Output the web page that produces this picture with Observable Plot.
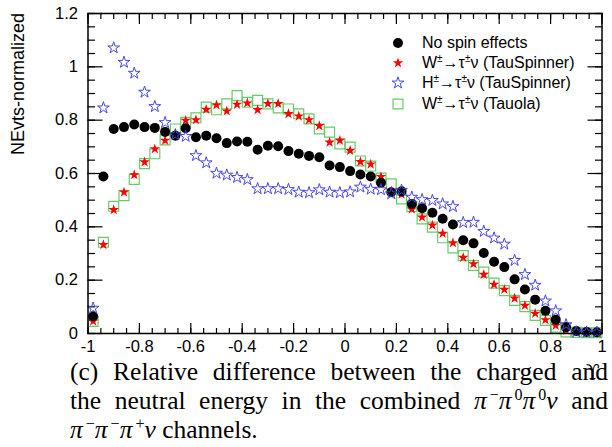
<!DOCTYPE html>
<html>
<head>
<meta charset="utf-8">
<script src="https://cdn.jsdelivr.net/npm/d3@7"></script>
<script src="https://cdn.jsdelivr.net/npm/@observablehq/plot@0.6"></script>
<style>
  body { margin: 0; background: #fff; }
  #wrap { position: relative; width: 612px; height: 447px; overflow: hidden; font-family: "Liberation Sans", Arial, sans-serif; }
  #chart svg { display: block; overflow: visible; }
  .legrow { position: absolute; height: 20px; white-space: nowrap; font-size: 16px; line-height: 20px; color: #000; }
  .legrow svg { position: absolute; top: 0; }
  .legrow span.t { position: absolute; top: 0; }
  .legrow sup { font-size: 10px; vertical-align: 6px; line-height: 0; }
  .caption { position: absolute; left: 70px; width: 538px; top: 357px; font-family: "Liberation Serif", "Times New Roman", serif; font-size: 25.5px; line-height: 29px; color: #000; }
  .caption .j { text-align: justify; text-align-last: justify; white-space: nowrap; }
  .caption i { font-style: italic; }
  .caption sup { font-size: 16px; vertical-align: 9px; line-height: 0; margin-left: 3px; }
  #upsilon { position: absolute; left: 586px; top: 360px; font-family: "DejaVu Serif", serif; font-size: 20px; line-height: 24px; color: #000; }
</style>
</head>
<body>
<div id="wrap">
  <div id="chart"></div>
  <div id="legend"></div>
  <div class="caption">
    <div class="j">(c) Relative difference between the charged and</div>
    <div class="j">the neutral energy in the combined <i>π</i><sup>−</sup><i>π</i><sup>0</sup><i>π</i><sup>0</sup><i>ν</i> and</div>
    <div><i>π</i><sup>−</sup><i>π</i><sup>−</sup><i>π</i><sup>+</sup><i>ν</i> channels.</div>
  </div>
  <div id="upsilon">ϒ</div>
</div>
<script>
// Bin centers (50 bins of width 0.04 on [-1, 1])
const binCenters = [-0.98,-0.94,-0.90,-0.86,-0.82,-0.78,-0.74,-0.70,-0.66,-0.62,
  -0.58,-0.54,-0.50,-0.46,-0.42,-0.38,-0.34,-0.30,-0.26,-0.22,
  -0.18,-0.14,-0.10,-0.06,-0.02,0.02,0.06,0.10,0.14,0.18,
  0.22,0.26,0.30,0.34,0.38,0.42,0.46,0.50,0.54,0.58,
  0.62,0.66,0.70,0.74,0.78,0.82,0.86,0.90,0.94,0.98];

// No spin effects (black circles)
const noSpin = [0.065,0.589,0.767,0.774,0.784,0.774,0.771,0.756,0.742,0.770,
  0.736,0.742,0.732,0.714,0.720,0.719,0.689,0.704,0.702,0.684,
  0.674,0.666,0.661,0.630,0.624,0.609,0.596,0.589,0.565,0.530,
  0.533,0.486,0.470,0.453,0.430,0.409,0.350,0.338,0.302,0.269,
  0.249,0.203,0.165,0.127,0.085,0.052,0.024,0.009,0.006,0.005];

// W -> tau nu (TauSpinner) (red filled stars)
const wTauSpinner = [0.046,0.333,0.464,0.530,0.595,0.643,0.692,0.724,0.749,0.799,
  0.801,0.840,0.857,0.834,0.859,0.864,0.839,0.862,0.862,0.824,
  0.815,0.801,0.779,0.717,0.724,0.686,0.644,0.635,0.588,0.535,
  0.522,0.466,0.436,0.406,0.375,0.340,0.285,0.261,0.221,0.184,
  0.165,0.132,0.105,0.075,0.051,0.030,0.012,0.006,0.004,0.004];

// H -> tau nu (TauSpinner) (blue open stars)
const hTauSpinner = [0.095,0.846,1.071,1.017,0.976,0.905,0.851,0.791,0.745,0.739,
  0.667,0.640,0.601,0.594,0.585,0.577,0.543,0.543,0.543,0.540,
  0.530,0.528,0.539,0.530,0.528,0.531,0.549,0.541,0.539,0.524,
  0.537,0.511,0.502,0.499,0.486,0.476,0.416,0.417,0.383,0.358,
  0.335,0.274,0.221,0.181,0.122,0.085,0.033,0.006,0.005,0.005];

// W -> tau nu (Tauola) (green open squares)
const wTauola = [0.045,0.342,0.477,0.517,0.578,0.637,0.674,0.726,0.767,0.792,
  0.809,0.849,0.839,0.861,0.892,0.867,0.874,0.861,0.846,0.842,
  0.824,0.805,0.767,0.755,0.711,0.699,0.647,0.628,0.583,0.561,
  0.505,0.476,0.430,0.399,0.359,0.321,0.292,0.255,0.230,0.189,
  0.161,0.124,0.101,0.068,0.049,0.024,0.006,0.004,0.003,0.003];

const xMajorTicks = [-1,-0.8,-0.6,-0.4,-0.2,0,0.2,0.4,0.6,0.8,1];
const xTickLabels = ["-1","-0.8","-0.6","-0.4","-0.2","0","0.2","0.4","0.6","0.8","1"];
const yMajorTicks = [0,0.2,0.4,0.6,0.8,1,1.2];
const yTickLabels = ["0","0.2","0.4","0.6","0.8","1","1.2"];
const xMinorTicks = d3.range(0, 41).map(i => +(-1 + i * 0.05).toFixed(2));
const yMinorTicks = d3.range(0, 25).map(i => +(i * 0.05).toFixed(2));

const yTitle = "NEvts-normalized";
const legendLabels = [
  "No spin effects",
  "W<sup>±</sup>→τ<sup>±</sup>ν (TauSpinner)",
  "H<sup>±</sup>→τ<sup>±</sup>ν (TauSpinner)",
  "W<sup>±</sup>→τ<sup>±</sup>ν (Tauola)"
];

const rows = arr => binCenters.map((x, i) => ({x, y: arr[i]}));

const colBlack = "#000000", colRed = "#ff0000", colBlue = "#4646e0", colGreen = "#66cc66";

const plot = Plot.plot({
  width: 612,
  height: 357,
  marginLeft: 87.5,
  marginRight: 10.5,
  marginTop: 13,
  marginBottom: 24,
  style: {fontFamily: "'Liberation Sans', Arial, sans-serif", fontSize: "16.5px", color: "#000", background: "#fff"},
  x: {domain: [-1, 1]},
  y: {domain: [0, 1.2]},
  marks: [
    // tick labels
    Plot.axisX(xMajorTicks, {anchor: "bottom", tickSize: 0, tickPadding: 7, tickFormat: d => xTickLabels[xMajorTicks.indexOf(d)], label: null}),
    Plot.axisY(yMajorTicks, {anchor: "left", tickSize: 0, tickPadding: 10, tickFormat: d => yTickLabels[yMajorTicks.indexOf(d)], label: null}),
    // inward ticks
    Plot.axisX(xMajorTicks, {anchor: "bottom", tickSize: -10, text: null, label: null, strokeWidth: 1.2}),
    Plot.axisX(xMinorTicks, {anchor: "bottom", tickSize: -5, text: null, label: null, strokeWidth: 1.2}),
    Plot.axisX(xMajorTicks, {anchor: "top", tickSize: -10, text: null, label: null, strokeWidth: 1.2}),
    Plot.axisX(xMinorTicks, {anchor: "top", tickSize: -5, text: null, label: null, strokeWidth: 1.2}),
    Plot.axisY(yMajorTicks, {anchor: "left", tickSize: -15, text: null, label: null, strokeWidth: 1.2}),
    Plot.axisY(yMinorTicks, {anchor: "left", tickSize: -7.5, text: null, label: null, strokeWidth: 1.2}),
    Plot.axisY(yMajorTicks, {anchor: "right", tickSize: -15, text: null, label: null, strokeWidth: 1.2}),
    Plot.axisY(yMinorTicks, {anchor: "right", tickSize: -7.5, text: null, label: null, strokeWidth: 1.2}),
    // data
    Plot.dot(rows(wTauola), {x: "x", y: "y", symbol: "square", r: 5.6, fill: "none", stroke: colGreen, strokeWidth: 1.2}),
    Plot.dot(rows(wTauSpinner), {x: "x", y: "y", symbol: "star", r: 3.3, fill: colRed, stroke: "none"}),
    Plot.dot(rows(noSpin), {x: "x", y: "y", symbol: "circle", r: 5, fill: colBlack, stroke: "none"}),
    Plot.dot(rows(hTauSpinner), {x: "x", y: "y", symbol: "star", r: 3.7, fill: "none", stroke: colBlue, strokeWidth: 1}),
    Plot.frame({stroke: "#000", strokeWidth: 1.5})
  ]
});
document.getElementById("chart").appendChild(plot);

// y-axis title (rotated, aligned to top of axis)
d3.select(plot).append("text")
  .attr("transform", "translate(24,13) rotate(-90)")
  .attr("text-anchor", "end")
  .attr("font-size", 18)
  .attr("font-family", "'Liberation Sans', Arial, sans-serif")
  .attr("fill", "#000")
  .text(yTitle);

// Legend
const legendSymbols = [
  {type: d3.symbolCircle, size: Math.PI * 5 * 5, fill: colBlack, stroke: "none", sw: 0},
  {type: d3.symbolStar, size: Math.PI * 3.3 * 3.3, fill: colRed, stroke: "none", sw: 0},
  {type: d3.symbolStar, size: Math.PI * 3.7 * 3.7, fill: "none", stroke: colBlue, sw: 1},
  {type: d3.symbolSquare, size: Math.PI * 5.6 * 5.6, fill: "none", stroke: colGreen, sw: 1.2}
];
const legendCy = [42.7, 62.9, 83.3, 103.8];
const leg = d3.select("#legend");
legendLabels.forEach((lab, i) => {
  const row = leg.append("div").attr("class", "legrow")
    .style("left", "386px").style("top", (legendCy[i] - 10) + "px").style("width", "220px");
  const s = legendSymbols[i];
  const svg = row.append("svg").attr("width", 24).attr("height", 20).style("left", "0px");
  svg.append("path")
    .attr("transform", "translate(12,10)")
    .attr("d", d3.symbol(s.type, s.size)())
    .attr("fill", s.fill).attr("stroke", s.stroke).attr("stroke-width", s.sw);
  row.append("span").attr("class", "t").style("left", "36px").html(lab);
});
</script>
</body>
</html>
